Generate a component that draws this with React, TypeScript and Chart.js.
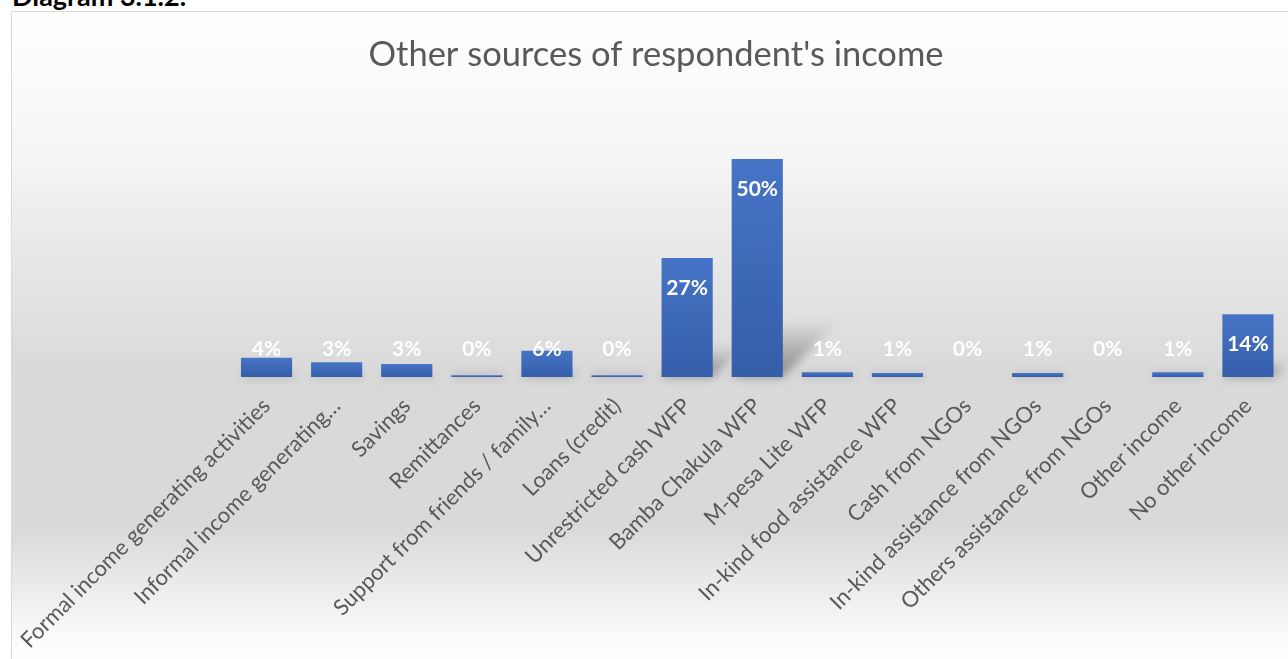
import React, { useEffect, useRef } from "react";
import { Chart, registerables } from "chart.js";

Chart.register(...registerables);

const categories = [
  "Formal income generating activities",
  "Informal income generating…",
  "Savings",
  "Remittances",
  "Support from friends / family…",
  "Loans (credit)",
  "Unrestricted cash WFP",
  "Bamba Chakula WFP",
  "M-pesa Lite WFP",
  "In-kind food assistance WFP",
  "Cash from NGOs",
  "In-kind assistance from NGOs",
  "Others assistance from NGOs",
  "Other income",
  "No other income",
];

const shares = [4.4, 3.4, 3.0, 0.4, 6.0, 0.4, 27.3, 50.0, 1.1, 0.9, 0, 0.9, 0, 1.1, 14.4];

const chartTitle = "Other sources of respondent's income";
const diagramCaption = "Diagram 3.1.2.";

const FONT = "Lato, 'Open Sans', sans-serif";

const backgroundPlugin = {
  id: "bgGradient",
  beforeDraw(chart: any) {
    const { ctx, width, height } = chart;
    const g = ctx.createLinearGradient(0, 0, 0, height);
    g.addColorStop(0, "#ffffff");
    g.addColorStop(0.2, "#f6f6f6");
    g.addColorStop(0.55, "#d9d9d9");
    g.addColorStop(0.78, "#d9d9d9");
    g.addColorStop(0.96, "#fdfdfd");
    g.addColorStop(1, "#ffffff");
    ctx.save();
    ctx.fillStyle = g;
    ctx.fillRect(0, 0, width, height);
    ctx.restore();
  },
  afterDraw(chart: any) {
    const { ctx, width } = chart;
    ctx.save();
    ctx.font = `34.5px ${FONT}`;
    ctx.fillStyle = "#595959";
    ctx.textAlign = "center";
    ctx.textBaseline = "middle";
    ctx.fillText(chartTitle, width / 2, 42.5);
    ctx.restore();
  },
};

const shadowPlugin = {
  id: "barShadow",
  beforeDatasetsDraw(chart: any) {
    const { ctx } = chart;
    const meta = chart.getDatasetMeta(0);
    ctx.save();
    ctx.filter = "blur(5px)";
    meta.data.forEach((bar: any) => {
      const { x, y, base, width } = bar.getProps(["x", "y", "base", "width"], true);
      const h = base - y;
      if (h <= 0.5) return;
      const d = Math.max(h * 0.26, 4);
      const left = x - width / 2;
      const right = x + width / 2;
      const g = ctx.createLinearGradient(0, base, 0, base - d);
      g.addColorStop(0, "rgba(0,0,0,0.38)");
      g.addColorStop(1, "rgba(0,0,0,0)");
      ctx.fillStyle = g;
      ctx.beginPath();
      ctx.moveTo(left, base);
      ctx.lineTo(right, base);
      ctx.lineTo(right + d, base - d);
      ctx.lineTo(left + d, base - d);
      ctx.closePath();
      ctx.fill();
    });
    ctx.restore();
  },
};

const labelPlugin = {
  id: "valueLabels",
  afterDatasetsDraw(chart: any) {
    const { ctx } = chart;
    const meta = chart.getDatasetMeta(0);
    const ds = chart.data.datasets[0].data as number[];
    ctx.save();
    ctx.font = `bold 21px ${FONT}`;
    ctx.fillStyle = "#ffffff";
    ctx.textAlign = "center";
    ctx.textBaseline = "middle";
    meta.data.forEach((bar: any, i: number) => {
      const { x, y, base } = bar.getProps(["x", "y", "base"], true);
      const ly = Math.min(y + 30, base - 28);
      ctx.fillText(Math.round(ds[i]) + "%", x, ly);
    });
    ctx.restore();
  },
};

function barFill(context: any) {
  const chart = context.chart;
  const { ctx, chartArea, scales } = chart;
  if (!chartArea || !scales || !scales.y) return "#4472c4";
  const v = context.raw as number;
  const top = scales.y.getPixelForValue(v);
  const bottom = scales.y.getPixelForValue(0);
  if (bottom - top < 1) return "#4472c4";
  const g = ctx.createLinearGradient(0, top, 0, bottom);
  g.addColorStop(0, "#4674c6");
  g.addColorStop(1, "#355ea9");
  return g;
}

export default function App() {
  const canvasRef = useRef<HTMLCanvasElement | null>(null);

  useEffect(() => {
    if (!canvasRef.current) return;
    const chart = new Chart(canvasRef.current, {
      type: "bar",
      data: {
        labels: categories,
        datasets: [
          {
            data: shares,
            backgroundColor: barFill,
            barPercentage: 0.73,
            categoryPercentage: 1,
          },
        ],
      },
      plugins: [backgroundPlugin, shadowPlugin, labelPlugin],
      options: {
        animation: false,
        responsive: false,
        maintainAspectRatio: false,
        layout: { padding: { left: 219.5, right: 17, top: 103.4, bottom: 0 } },
        plugins: {
          legend: { display: false },
          tooltip: { enabled: false },
          title: { display: false },
        },
        scales: {
          x: {
            grid: { display: false },
            border: { display: false },
            ticks: {
              autoSkip: false,
              minRotation: 45,
              maxRotation: 45,
              color: "#595959",
              font: { family: FONT, size: 22 },
              padding: 8,
            },
            afterFit(scale: any) {
              scale.paddingLeft = 0;
              scale.paddingRight = 0;
              scale.height = 295;
            },
          },
          y: {
            display: false,
            min: 0,
            max: 60,
          },
        },
      },
    });
    return () => chart.destroy();
  }, []);

  return (
    <div
      style={{
        position: "fixed",
        left: 0,
        top: 0,
        width: 1288,
        height: 659,
        overflow: "hidden",
        background: "#ffffff",
      }}
    >
      <div
        style={{
          position: "absolute",
          left: 12,
          top: -19,
          fontFamily: "Lato, 'Liberation Sans', sans-serif",
          fontWeight: "bold",
          fontSize: 27,
          lineHeight: "30px",
          color: "#000000",
          whiteSpace: "nowrap",
        }}
      >
        {diagramCaption}
      </div>
      <div
        style={{
          position: "absolute",
          left: 11,
          top: 11,
          width: 1290,
          height: 662,
          border: "1px solid #d9d9d9",
          boxSizing: "border-box",
        }}
      >
        <canvas ref={canvasRef} width={1288} height={660} style={{ display: "block" }} />
      </div>
    </div>
  );
}
